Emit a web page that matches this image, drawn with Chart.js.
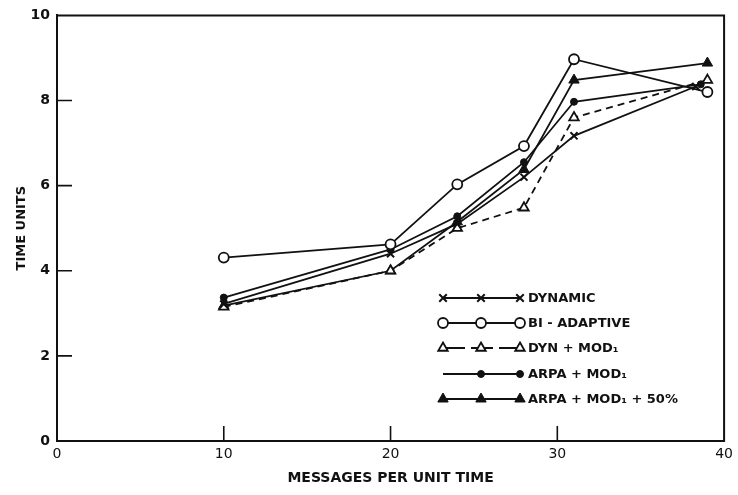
<!DOCTYPE html>
<html><head><meta charset="utf-8">
<script src="https://cdn.jsdelivr.net/npm/chart.js@4.4.1/dist/chart.umd.min.js"></script>
<style>html,body{margin:0;padding:0;background:#fff}canvas{display:block}</style>
</head><body>
<canvas id="c" width="738" height="495"></canvas>
<script>
// ---- data ----
const seriesNames = ['DYNAMIC', 'BI - ADAPTIVE', 'DYN + MOD\u2081', 'ARPA + MOD\u2081', 'ARPA + MOD\u2081 + 50%'];
const dynamicX    = [10, 20, 24, 28, 31, 38.3];
const dynamicY    = [3.22, 4.40, 5.10, 6.20, 7.17, 8.33];
const biAdaptiveX = [10, 20, 24, 28, 31, 39];
const biAdaptiveY = [4.31, 4.62, 6.03, 6.93, 8.97, 8.20];
const dynModX     = [10, 20, 24, 28, 31, 39];
const dynModY     = [3.15, 4.00, 5.00, 5.48, 7.60, 8.48];
const arpaModX    = [10, 20, 24, 28, 31, 38.6];
const arpaModY    = [3.37, 4.50, 5.28, 6.55, 7.97, 8.38];
const arpa50X     = [10, 20, 24, 28, 31, 39];
const arpa50Y     = [3.18, 4.00, 5.15, 6.38, 8.48, 8.88];
const xTicks = [0, 10, 20, 30, 40];
const yTicks = [0, 2, 4, 6, 8, 10];
const xTitle = 'MESSAGES PER UNIT TIME';
const yTitle = 'TIME UNITS';

const INK = '#111';
const pts = (xs, ys) => xs.map((x, i) => ({x: x, y: ys[i]}));

const styles = [
  {pointStyle: 'crossRot', pointRadius: 5, pointBorderWidth: 2, pointBackgroundColor: INK, borderDash: []},
  {pointStyle: 'circle', pointRadius: 5, pointBorderWidth: 1.8, pointBackgroundColor: '#fff', borderDash: []},
  {pointStyle: 'triangle', pointRadius: 5.5, pointBorderWidth: 1.8, pointBackgroundColor: '#fff', borderDash: [7, 5]},
  {pointStyle: 'circle', pointRadius: 3.5, pointBorderWidth: 1, pointBackgroundColor: INK, borderDash: []},
  {pointStyle: 'triangle', pointRadius: 6, pointBorderWidth: 1, pointBackgroundColor: INK, borderDash: []}
];
const seriesData = [pts(dynamicX, dynamicY), pts(biAdaptiveX, biAdaptiveY), pts(dynModX, dynModY), pts(arpaModX, arpaModY), pts(arpa50X, arpa50Y)];

const datasets = seriesNames.map((n, i) => Object.assign({
  label: n,
  data: seriesData[i],
  showLine: true,
  borderColor: INK,
  borderWidth: 1.8,
  pointBorderColor: INK,
  tension: 0,
  clip: false
}, styles[i]));

function marker(ctx, st, x, y) {
  ctx.save();
  ctx.setLineDash([]);
  ctx.strokeStyle = INK;
  ctx.fillStyle = st.pointBackgroundColor;
  ctx.lineWidth = st.pointBorderWidth;
  const r = st.pointRadius;
  ctx.beginPath();
  if (st.pointStyle === 'circle') {
    ctx.arc(x, y, r, 0, Math.PI * 2);
    ctx.fill(); ctx.stroke();
  } else if (st.pointStyle === 'triangle') {
    let a = 0;
    ctx.moveTo(x + Math.sin(a) * r, y - Math.cos(a) * r);
    a += Math.PI * 2 / 3; ctx.lineTo(x + Math.sin(a) * r, y - Math.cos(a) * r);
    a += Math.PI * 2 / 3; ctx.lineTo(x + Math.sin(a) * r, y - Math.cos(a) * r);
    ctx.closePath(); ctx.fill(); ctx.stroke();
  } else {
    const d = r * 0.75;
    ctx.moveTo(x - d, y - d); ctx.lineTo(x + d, y + d);
    ctx.moveTo(x + d, y - d); ctx.lineTo(x - d, y + d);
    ctx.stroke();
  }
  ctx.restore();
}

const framePlugin = {
  id: 'frame',
  afterDraw(chart) {
    const {ctx, chartArea: a, scales} = chart;
    ctx.save();
    ctx.strokeStyle = INK;
    ctx.lineWidth = 2;
    ctx.beginPath();
    ctx.moveTo(a.left - 1, a.top); ctx.lineTo(a.right, a.top); ctx.lineTo(a.right, a.bottom + 1);
    ctx.stroke();
    ctx.lineWidth = 1.6;
    ctx.beginPath();
    yTicks.slice(1, -1).forEach(v => {
      const y = scales.y.getPixelForValue(v);
      ctx.moveTo(a.left, y); ctx.lineTo(a.left + 15, y);
    });
    xTicks.slice(1, -1).forEach(v => {
      const x = scales.x.getPixelForValue(v);
      ctx.moveTo(x, a.bottom); ctx.lineTo(x, a.bottom - 15);
    });
    ctx.stroke();

    // legend
    const x0 = 443, x1 = 481, x2 = 520, rows = [298, 323, 348, 374, 399];
    ctx.font = 'bold 13px "DejaVu Sans"';
    ctx.textBaseline = 'middle';
    ctx.fillStyle = INK;
    chart.data.datasets.forEach((ds, i) => {
      const y = rows[i];
      const st = styles[i];
      ctx.save();
      ctx.lineWidth = 1.8;
      ctx.strokeStyle = INK;
      ctx.setLineDash(i === 2 ? [22, 6] : []);
      ctx.beginPath(); ctx.moveTo(x0, y); ctx.lineTo(x2, y); ctx.stroke();
      ctx.restore();
      if (i !== 3) marker(ctx, st, x0, y);
      marker(ctx, st, x1, y);
      marker(ctx, st, x2, y);
      ctx.fillText(ds.label, 528, y + 1);
    });
    ctx.restore();
  }
};

new Chart(document.getElementById('c'), {
  type: 'scatter',
  data: {datasets: datasets},
  options: {
    responsive: false,
    animation: false,
    devicePixelRatio: 1,
    layout: {padding: {top: 15, right: 11, left: 0, bottom: 0}},
    plugins: {legend: {display: false}, tooltip: {enabled: false}},
    scales: {
      x: {
        type: 'linear', min: 0, max: 40,
        afterBuildTicks: s => { s.ticks = xTicks.map(v => ({value: v})); },
        afterFit: s => { s.height = 54; },
        grid: {display: false, drawTicks: false},
        border: {display: true, color: INK, width: 2},
        ticks: {color: INK, padding: 5, maxRotation: 0, font: {family: 'DejaVu Sans', size: 14}},
        title: {display: true, text: xTitle, color: INK, font: {family: 'DejaVu Sans', size: 14, weight: 'bold'}, padding: {top: 0, bottom: 8}}
      },
      y: {
        type: 'linear', min: 0, max: 10,
        afterBuildTicks: s => { s.ticks = yTicks.map(v => ({value: v})); },
        afterFit: s => { s.width = 57; },
        grid: {display: false, drawTicks: false},
        border: {display: true, color: INK, width: 2},
        ticks: {color: INK, padding: 7, font: {family: 'DejaVu Sans', size: 14, weight: 'bold'}},
        title: {display: true, text: yTitle, color: INK, font: {family: 'DejaVu Sans', size: 13, weight: 'bold'}, padding: {top: 14, bottom: 0}}
      }
    }
  },
  plugins: [framePlugin]
});
</script>
</body></html>
